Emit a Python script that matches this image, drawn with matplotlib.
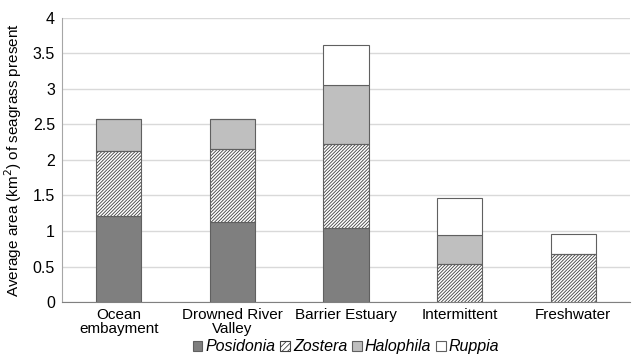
# Stacked bar chart of average seagrass area by estuary type

import numpy as np
import matplotlib.pyplot as plt
from matplotlib.patches import Patch

plt.rcParams['font.family'] = ['Liberation Sans', 'DejaVu Sans']
plt.rcParams['hatch.linewidth'] = 0.6

# Data
categories = ['Ocean\nembayment', 'Drowned River\nValley', 'Barrier Estuary', 'Intermittent', 'Freshwater']
posidonia = [1.21, 1.13, 1.04, 0.0, 0.0]
zostera = [0.92, 1.02, 1.19, 0.54, 0.68]
halophila = [0.45, 0.43, 0.83, 0.40, 0.0]
ruppia = [0.0, 0.0, 0.56, 0.52, 0.28]

x = np.arange(len(categories))
w = 0.4
edge = '#606060'
hatch = '/' * 10

fig = plt.figure(figsize=(6.32, 3.57), dpi=100)
ax = fig.add_axes([0.098, 0.154, 0.899, 0.796])

bottom = np.zeros(len(x))
# Posidonia
ax.bar(x, posidonia, w, bottom=bottom, color='#7f7f7f', edgecolor=edge, linewidth=0.8, zorder=3)
bottom += posidonia
# Zostera: hatch layer then outline
ax.bar(x, zostera, w, bottom=bottom, color='white', edgecolor='#404040', hatch=hatch, linewidth=0, zorder=3)
ax.bar(x, zostera, w, bottom=bottom, fill=False, edgecolor=edge, linewidth=0.8, zorder=4)
bottom += zostera
# Halophila
ax.bar(x, halophila, w, bottom=bottom, color='#bfbfbf', edgecolor=edge, linewidth=0.8, zorder=3)
bottom += halophila
# Ruppia
ax.bar(x, ruppia, w, bottom=bottom, color='white', edgecolor=edge, linewidth=0.8, zorder=3)

ax.set_ylim(0, 4)
ax.set_xlim(-0.5, 4.5)
ax.set_yticks(np.arange(0, 4.01, 0.5))
ax.set_yticklabels(['0', '0.5', '1', '1.5', '2', '2.5', '3', '3.5', '4'])
ax.set_xticks(x)
ax.set_xticklabels(categories, fontsize=11, linespacing=1.05)
ax.tick_params(axis='y', labelsize=11.5, length=0, pad=5)
ax.tick_params(axis='x', length=0, pad=4)
ax.yaxis.grid(True, color='#d9d9d9', linewidth=1, zorder=0)
ax.set_axisbelow(True)
for s in ['top', 'right']:
    ax.spines[s].set_visible(False)
ax.spines['left'].set_color('#a6a6a6')
ax.spines['bottom'].set_color('#808080')
ax.set_ylabel('Average area (km$^2$) of seagrass present', fontsize=11, labelpad=6)

handles = [
    Patch(facecolor='#7f7f7f', edgecolor=edge, linewidth=0.8),
    Patch(facecolor='white', edgecolor='#404040', hatch='//////', linewidth=0.8),
    Patch(facecolor='#bfbfbf', edgecolor=edge, linewidth=0.8),
    Patch(facecolor='white', edgecolor=edge, linewidth=0.8),
]
leg = ax.legend(handles, ['Posidonia', 'Zostera', 'Halophila', 'Ruppia'], loc='center',
                bbox_to_anchor=(0.5, -0.158), ncol=4, frameon=False,
                handlelength=0.6, handleheight=0.6, handletextpad=0.2, columnspacing=0.3,
                prop={'style': 'italic', 'size': 11.5})

fig.savefig('out.png', dpi=100)
